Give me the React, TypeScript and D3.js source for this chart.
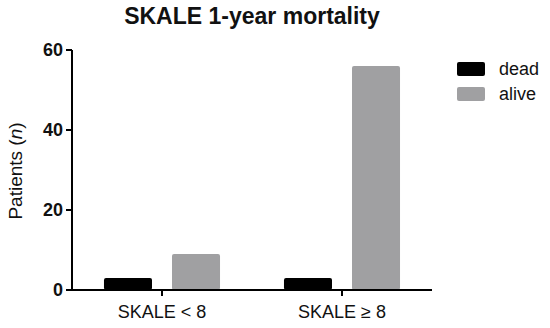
import React from 'react';
import * as d3 from 'd3';

// chart data
const groups = ['SKALE < 8', 'SKALE ≥ 8'];
const seriesNames = ['dead', 'alive'];
const deadValues = [3, 3];
const aliveValues = [9, 56];
const yTicks = [0, 20, 40, 60];

const colors: Record<string, string> = { dead: '#000000', alive: '#a0a0a2' };

const W = 550;
const H = 328;
const font = 'Arial, "Liberation Sans", Helvetica, sans-serif';

export default function App() {
  const x0 = d3.scaleBand<string>().domain(groups).range([72, 432]).padding(0);
  const x1 = d3
    .scaleBand<string>()
    .domain(seriesNames)
    .range([0, x0.bandwidth()])
    .paddingInner(0.294)
    .paddingOuter(0.47);
  const y = d3.scaleLinear().domain([0, 60]).range([290, 50]);

  const rows = groups.map((g, i) => ({
    group: g,
    values: [
      { key: 'dead', value: deadValues[i] },
      { key: 'alive', value: aliveValues[i] },
    ],
  }));

  return (
    <svg
      width={W}
      height={H}
      style={{ position: 'absolute', left: 0, top: 0, background: '#fff' }}
      fontFamily={font}
    >
      {/* title */}
      <text x={252} y={24} textAnchor="middle" fontSize={23} fontWeight="bold" fill="#111">
        SKALE 1-year mortality
      </text>

      {/* bars */}
      {rows.map((r) => (
        <g key={r.group} transform={`translate(${x0(r.group)},0)`}>
          {r.values.map((v) => (
            <rect
              key={v.key}
              x={x1(v.key)}
              y={y(v.value)}
              width={x1.bandwidth()}
              height={y(0) - y(v.value)}
              rx={2}
              fill={colors[v.key]}
            />
          ))}
        </g>
      ))}

      {/* y axis */}
      <line x1={72} x2={72} y1={y(60)} y2={y(0) + 1} stroke="#000" strokeWidth={2} />
      {yTicks.map((t) => (
        <g key={t}>
          <line x1={66} x2={72} y1={y(t)} y2={y(t)} stroke="#000" strokeWidth={2} />
          <text
            x={63}
            y={y(t)}
            dy="0.36em"
            textAnchor="end"
            fontSize={18}
            fontWeight="bold"
            fill="#111"
          >
            {t}
          </text>
        </g>
      ))}
      <text
        transform={`translate(22,171) rotate(-90)`}
        textAnchor="middle"
        fontSize={19}
        fill="#111"
      >
        Patients (<tspan fontStyle="italic">n</tspan>)
      </text>

      {/* x axis */}
      <line x1={71} x2={432} y1={y(0)} y2={y(0)} stroke="#000" strokeWidth={2} />
      {groups.map((g) => {
        const cx = (x0(g) ?? 0) + x0.bandwidth() / 2;
        return (
          <g key={g}>
            <line x1={cx} x2={cx} y1={y(0)} y2={y(0) + 6} stroke="#000" strokeWidth={2} />
            <text x={cx} y={318} textAnchor="middle" fontSize={18} fill="#111">
              {g}
            </text>
          </g>
        );
      })}

      {/* legend */}
      {seriesNames.map((s, i) => (
        <g key={s} transform={`translate(457,${62 + i * 25})`}>
          <rect width={28} height={14} rx={2} fill={colors[s]} />
          <text x={42} y={7} dy="0.35em" fontSize={18} fill="#111">
            {s}
          </text>
        </g>
      ))}
    </svg>
  );
}
